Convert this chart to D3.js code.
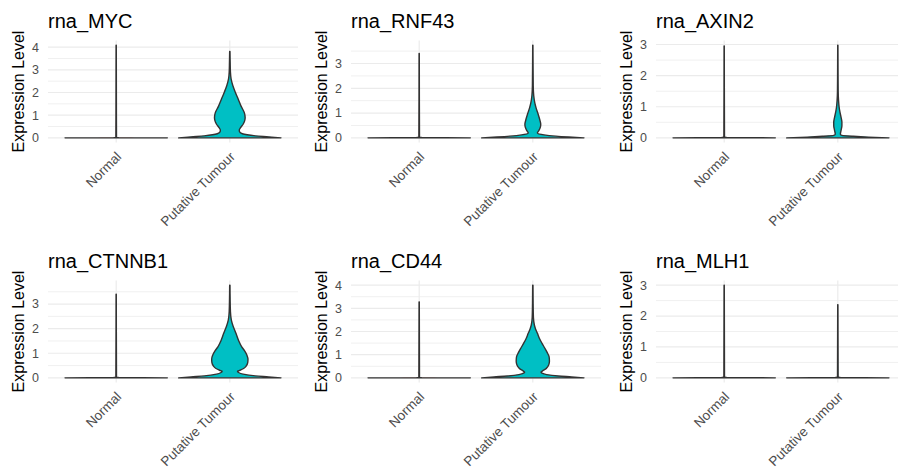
<!DOCTYPE html>
<html>
<head>
<meta charset="utf-8">
<script src="https://cdn.jsdelivr.net/npm/d3@7"></script>
<style>
  body { margin: 0; background: #fff; }
  svg text { font-family: "Liberation Sans", Arial, sans-serif; }
</style>
</head>
<body>
<svg id="chart" width="898" height="468"></svg>
<script>
// panels, in reading order
let genes = ["rna_MYC", "rna_RNF43", "rna_AXIN2", "rna_CTNNB1", "rna_CD44", "rna_MLH1"];
let groups = ["Normal", "Putative Tumour"];
let groupColors = ["#F8766D", "#00BFC4"];

// top of the Normal spike in each panel
let normalMax = [4.09, 3.40, 2.95, 3.40, 3.28, 3.00];

// violin outline: [expression, half width as share of max]
let thinBase = [[0, 1], [0.012, 0.05], [0.03, 0.006]];
let myc_tumour = [[0, 1], [0.045, 0.76], [0.09, 0.5], [0.18, 0.245], [0.27, 0.19], [0.35, 0.185],
  [0.45, 0.21], [0.6, 0.26], [0.75, 0.29], [0.9, 0.3], [1.1, 0.285], [1.4, 0.22], [1.7, 0.165],
  [2.0, 0.11], [2.3, 0.06], [2.6, 0.025], [2.9, 0.012], [3.3, 0.007], [3.81, 0.003]];
let rnf43_tumour = [[0, 1], [0.035, 0.7], [0.07, 0.45], [0.12, 0.22], [0.2, 0.09], [0.3, 0.12],
  [0.45, 0.15], [0.55, 0.155], [0.7, 0.14], [0.98, 0.1], [1.2, 0.065], [1.4, 0.04], [1.7, 0.018],
  [2.1, 0.008], [2.8, 0.005], [3.74, 0.002]];
let axin2_tumour = [[0, 1], [0.025, 0.6], [0.05, 0.3], [0.08, 0.08], [0.12, 0.05], [0.25, 0.065],
  [0.4, 0.08], [0.5, 0.08], [0.65, 0.065], [0.84, 0.04], [1.0, 0.025], [1.21, 0.014], [1.5, 0.007],
  [2.2, 0.004], [2.98, 0.002]];
let ctnnb1_tumour = [[0, 1], [0.04, 0.76], [0.08, 0.5], [0.15, 0.26], [0.22, 0.17], [0.27, 0.15],
  [0.31, 0.2], [0.38, 0.27], [0.48, 0.32], [0.62, 0.35], [0.76, 0.355], [0.92, 0.335], [1.1, 0.29],
  [1.27, 0.23], [1.5, 0.175], [1.81, 0.12], [2.1, 0.065], [2.35, 0.03], [2.7, 0.012], [3.2, 0.006],
  [3.77, 0.003]];
let cd44_tumour = [[0, 1], [0.04, 0.76], [0.08, 0.5], [0.14, 0.27], [0.2, 0.18], [0.25, 0.16],
  [0.3, 0.19], [0.4, 0.26], [0.55, 0.31], [0.72, 0.325], [0.89, 0.32], [1.1, 0.28], [1.3, 0.23],
  [1.49, 0.18], [1.7, 0.13], [1.92, 0.09], [2.1, 0.055], [2.28, 0.03], [2.6, 0.012], [3.2, 0.006],
  [4.0, 0.003]];
let mlh1_tumour = thinBase.concat([[2.37, 0.002]]);

let tumourProfiles = [myc_tumour, rnf43_tumour, axin2_tumour, ctnnb1_tumour, cd44_tumour, mlh1_tumour];

// facet layout
let colLeft = [48, 351, 656];
let rowTop = [40.5, 280.5];
let panelW = 250, panelH = 102;

let svg = d3.select("#chart");

genes.forEach((gene, i) => {
    let col = i % 3, row = Math.floor(i / 3);
    let g = svg.append("g")
        .attr("transform", `translate(${colLeft[col]}, ${rowTop[row]})`);

    let profiles = [thinBase.concat([[normalMax[i], 0.002]]), tumourProfiles[i]];
    let top = d3.max(profiles, p => p[p.length - 1][0]);

    let x = d3.scalePoint().domain(groups).range([0, panelW]).padding(0.6);
    let y = d3.scaleLinear()
        .domain([-0.05 * top, 1.05 * top])
        .range([panelH, 0]);

    let majors = d3.range(0, y.domain()[1], 1);
    let minors = d3.range(0.5, y.domain()[1], 1);

    // grid
    g.append("g").selectAll("line").data(minors).enter().append("line")
        .attr("x1", 0).attr("x2", panelW)
        .attr("y1", d => y(d)).attr("y2", d => y(d))
        .attr("stroke", "#F0F0F0").attr("stroke-width", 1);
    g.append("g").selectAll("line").data(majors).enter().append("line")
        .attr("x1", 0).attr("x2", panelW)
        .attr("y1", d => y(d)).attr("y2", d => y(d))
        .attr("stroke", "#EBEBEB").attr("stroke-width", 1.2);
    g.append("g").selectAll("line").data(groups).enter().append("line")
        .attr("x1", d => x(d)).attr("x2", d => x(d))
        .attr("y1", 0).attr("y2", panelH)
        .attr("stroke", "#EBEBEB").attr("stroke-width", 1.2);

    // violins
    let hw = x.step() * 0.45;
    profiles.forEach((p, k) => {
        let cx = x(groups[k]);
        let area = d3.area()
            .curve(d3.curveMonotoneY)
            .y(d => y(d[0]))
            .x0(d => cx - d[1] * hw)
            .x1(d => cx + d[1] * hw);
        g.append("path")
            .attr("d", area(p))
            .attr("fill", groupColors[k])
            .attr("stroke", "#333")
            .attr("stroke-width", 1.4)
            .attr("stroke-linejoin", "round");
    });

    // y tick labels
    g.append("g").selectAll("text").data(majors).enter().append("text")
        .attr("x", -9).attr("y", d => y(d)).attr("dy", "0.35em")
        .attr("text-anchor", "end")
        .style("font-size", "12.5px").style("fill", "#4D4D4D")
        .text(d => d);

    // x tick labels, rotated
    g.append("g").selectAll("text").data(groups).enter().append("text")
        .attr("transform", d => `translate(${x(d) + 6}, ${panelH + 15}) rotate(-45)`)
        .attr("text-anchor", "end")
        .style("font-size", "13.5px").style("fill", "#4D4D4D")
        .text(d => d);

    g.append("text")
        .attr("transform", `translate(-24.5, ${panelH / 2}) rotate(-90)`)
        .attr("text-anchor", "middle")
        .style("font-size", "16px").style("fill", "#000")
        .text("Expression Level");

    g.append("text")
        .attr("x", 0).attr("y", -12.5)
        .style("font-size", "20px").style("fill", "#000")
        .text(gene);
});
</script>
</body>
</html>
